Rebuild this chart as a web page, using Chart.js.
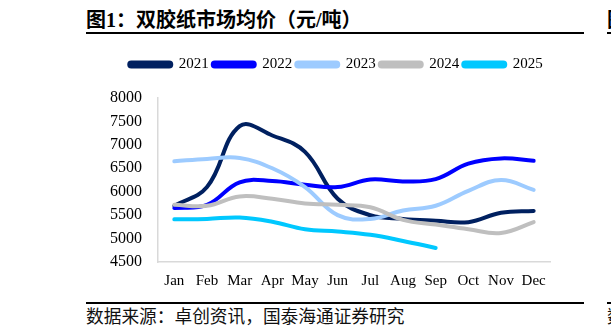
<!DOCTYPE html>
<html><head><meta charset="utf-8">
<script src="https://cdn.jsdelivr.net/npm/chart.js@4/dist/chart.umd.min.js"></script>
<style>
html,body{margin:0;padding:0;background:#fff;width:611px;height:336px;overflow:hidden;position:relative;}
#c{position:absolute;left:0;top:0;}
.title{position:absolute;left:86px;top:10px;line-height:20px;font-family:"Liberation Serif","Noto Sans CJK SC";font-weight:bold;font-size:20px;color:#000;white-space:nowrap;}
.foot{position:absolute;left:86px;top:308px;line-height:18px;font-family:"Liberation Serif","Noto Sans CJK SC";font-size:17.7px;color:#111;white-space:nowrap;}
.hl{position:absolute;height:2px;background:#000;}
</style></head><body>
<div class="title">图1：双胶纸市场均价（元/吨）</div>
<div class="hl" style="left:86px;top:32px;width:498px"></div>
<div class="hl" style="left:86px;top:302px;width:498px"></div>
<div class="title" style="left:607px">图</div>
<div class="hl" style="left:607px;top:32px;width:4px"></div>
<div class="hl" style="left:607px;top:302px;width:4px"></div>
<div class="foot" style="left:607px">数</div>
<div class="foot">数据来源：卓创资讯，国泰海通证券研究</div>
<canvas id="c" width="611" height="336"></canvas>
<script>
const months = ['Jan','Feb','Mar','Apr','May','Jun','Jul','Aug','Sep','Oct','Nov','Dec'];
const seriesNames = ['2021','2022','2023','2024','2025'];
const s2021 = [5700,6100,7400,7200,6850,5850,5500,5420,5380,5350,5550,5590];
const s2022 = [5650,5720,6200,6230,6150,6100,6260,6220,6270,6600,6710,6660];
const s2023 = [6650,6700,6720,6500,6100,5500,5420,5600,5700,6020,6250,6040];
const s2024 = [5720,5700,5900,5850,5750,5720,5670,5400,5300,5200,5120,5350];
const s2025 = [5410,5420,5450,5360,5200,5150,5080,4950,4800];
const yTicks = [4500,5000,5500,6000,6500,7000,7500,8000];
const colors = ['#002060','#0000FF','#9DCBFF','#BFBFBF','#00C8FF'];
const allSeries = [s2021,s2022,s2023,s2024,s2025];

const datasets = allSeries.map((d,i)=>({
  label: seriesNames[i], data: d, borderColor: colors[i], backgroundColor: colors[i],
  borderWidth: 4, pointRadius: 0, tension: 0.4, fill: false,
  borderCapStyle: 'round', borderJoinStyle: 'round', order: 5 - i,
  xAxisID: 'x', yAxisID: 'y'
}));

const tickFont = { family: 'Liberation Serif', size: 15 };

new Chart(document.getElementById('c'), {
  type: 'line',
  data: { labels: months, datasets },
  options: {
    responsive: false, animation: false, devicePixelRatio: 1,
    layout: { padding: { left: 98, right: 37, top: 53, bottom: 44 } },
    plugins: {
      tooltip: { enabled: false },
      legend: {
        display: true, position: 'top',
        labels: {
          boxWidth: 42, boxHeight: 4, padding: 4, useBorderRadius: true, borderRadius: 2,
          color: '#000', font: tickFont,
          sort: (a,b)=>a.datasetIndex-b.datasetIndex
        }
      }
    },
    scales: {
      x: {
        offset: true,
        grid: { display: false, drawTicks: false },
        border: { display: true, color: '#D9D9D9', width: 1.5 },
        ticks: { color: '#000', font: tickFont, padding: 10, maxRotation: 0, autoSkip: false },
        afterFit: s => { s.height = 30; }
      },
      xTop: {
        type: 'category', position: 'top', display: true,
        grid: { display: false, drawTicks: false }, border: { display: false },
        ticks: { display: false },
        afterFit: s => { s.height = 16; }
      },
      y: {
        min: 4500, max: 8000,
        grid: { display: false, drawTicks: false },
        border: { display: true, color: '#D9D9D9', width: 1.5 },
        afterBuildTicks: s => { s.ticks = yTicks.map(v=>({value:v})); },
        ticks: { color: '#000', font: { family: 'Liberation Serif', size: 16 }, padding: 16, callback: v => String(v) },
        afterFit: s => { s.width = 60; }
      },
      yRight: {
        type: 'linear', position: 'right', display: true,
        grid: { display: false, drawTicks: false }, border: { display: false },
        ticks: { display: false },
        afterFit: s => { s.width = 24; }
      }
    }
  }
});
</script>
</body></html>
